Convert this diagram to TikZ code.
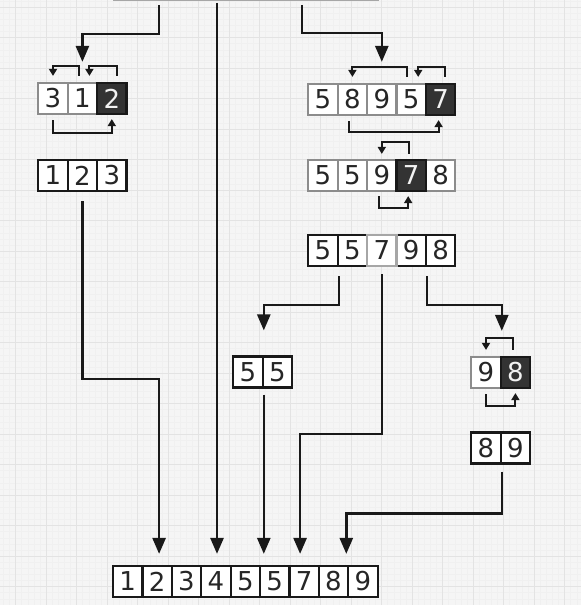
\documentclass[tikz,border=0pt]{standalone}
\usepackage{fontspec}
\usepackage{tikz}
\usetikzlibrary{arrows.meta}
\newfontfamily\digitfont{DejaVu Sans}
\tikzstyle{cell}=[draw=black!90,fill=white,line width=2.2pt,minimum width=29.4pt,minimum height=31pt,inner sep=0pt,text=black!85,font=\digitfont\fontsize{26pt}{30pt}\selectfont]
\tikzstyle{grey}=[cell,draw=black!45]
\tikzstyle{pivot}=[cell,fill=black!80,text=black!5]
\tikzstyle{big}=[line width=2.6pt,draw=black!90,-{Triangle[width=13pt,length=16pt]}]
\tikzstyle{swap}=[line width=2pt,draw=black!90,-{Triangle[width=8pt,length=7pt]}]
\tikzstyle{minor}=[black!6,line width=0.4pt]
\tikzstyle{major}=[black!11,line width=0.8pt]

\begin{document}
\begin{tikzpicture}[x=1pt,y=1pt,node distance=29.4pt]
          \useasboundingbox (0,0) rectangle (581,-605);
          \fill[black!4] (0,0) rectangle (581,-605);
          \foreach \x in {0,...,95} \draw[minor] ({3.3+6.1*\x},0) -- ++(0,-605);
          \foreach \y in {0,...,99} \draw[minor] (0,{-0.9-6.1*\y}) -- ++(581,0);
          \foreach \x in {0,...,18} \draw[major] ({15.5+30.5*\x},0) -- ++(0,-605);
          \foreach \y in {0,...,19} \draw[major] (0,{-7-30.5*\y}) -- ++(581,0);
          % unsorted input, cut off at the top
          \node[draw=black!35,fill=white,line width=1.5pt,minimum width=264pt,minimum height=30pt,anchor=south west] (top) at (113,-1) {};
          \coordinate (t1) at (159,-5);
          \coordinate (t2) at (217,-3);
          \coordinate (t3) at (302,-5);
          % left part
          \node[grey] (a1) at (53,-98.5) {3};
          \node[grey,right of=a1] (a2) {1};
          \node[pivot,right of=a2] (a3) {2};
          \node[cell] (b1) at (53,-175.5) {1};
          \node[cell,right of=b1] (b2) {2};
          \node[cell,right of=b2] (b3) {3};
          % right part
          \node[grey] (c1) at (323,-99.5) {5};
          \node[grey,right of=c1] (c2) {8};
          \node[grey,right of=c2] (c3) {9};
          \node[grey,right of=c3] (c4) {5};
          \node[pivot,right of=c4] (c5) {7};
          \node[grey] (d1) at (323,-175.5) {5};
          \node[grey,right of=d1] (d2) {5};
          \node[grey,right of=d2] (d3) {9};
          \node[grey,right of=d3,node distance=58.8pt] (d5) {8};
          \node[pivot,right of=d3] (d4) {7};
          \node[cell] (e1) at (323,-250.5) {5};
          \node[cell,right of=e1] (e2) {5};
          \node[cell,right of=e2,node distance=58.8pt] (e4) {9};
          \node[cell,right of=e4] (e5) {8};
          \node[grey,draw=black!35,right of=e2] (e3) {7};
          \node[cell] (f1) at (248,-372) {5};
          \node[cell,right of=f1] (f2) {5};
          \node[grey] (g1) at (486,-372.5) {9};
          \node[pivot,right of=g1] (g2) {8};
          \node[cell] (h1) at (486,-448) {8};
          \node[cell,right of=h1] (h2) {9};
          % merged output
          \node[cell] (r1) at (127.7,-581.5) {1};
          \node[cell,right of=r1] (r2) {2};
          \node[cell,right of=r2] (r3) {3};
          \node[cell,right of=r3] (r4) {4};
          \node[cell,right of=r4] (r5) {5};
          \node[cell,right of=r5] (r6) {5};
          \node[cell,right of=r6] (r7) {7};
          \node[cell,right of=r7] (r8) {8};
          \node[cell,right of=r8] (r9) {9};
          % swaps
          \draw[swap] ([xshift=-3pt,yshift=6pt]a2.north) -- ++(0,10) -| ([yshift=6pt]a1.north);
          \draw[swap] ([xshift=5pt,yshift=6pt]a3.north) -- ++(0,10) -| ([xshift=7pt,yshift=6pt]a2.north);
          \draw[swap] ([yshift=-5pt]a1.south) -- ++(0,-13) -| ([yshift=-4pt]a3.south);
          \draw[swap] ([xshift=-4pt,yshift=6pt]c4.north) -- ++(0,10) -| ([yshift=6pt]c2.north);
          \draw[swap] ([xshift=4pt,yshift=6pt]c5.north) -- ++(0,10) -| ([xshift=7pt,yshift=6pt]c4.north);
          \draw[swap] ([xshift=-3pt,yshift=-5pt]c2.south) -- ++(0,-11) -| ([xshift=-2pt,yshift=-4pt]c5.south);
          \draw[swap] ([xshift=-2pt,yshift=5pt]d4.north) -- ++(0,12) -| ([yshift=5pt]d3.north);
          \draw[swap] ([xshift=-3pt,yshift=-4pt]d3.south) -- ++(0,-12) -| ([xshift=-3pt,yshift=-4pt]d4.south);
          \draw[swap] ([xshift=-2pt,yshift=6pt]g2.north) -- ++(0,12) -| ([yshift=6pt]g1.north);
          \draw[swap] ([yshift=-5pt]g1.south) -- ++(0,-12) -| ([yshift=-4pt]g2.south);
          % splits and merges
          \draw[big] (t1) -- ++(0,-29) -| ([yshift=20pt]a2.north);
          \draw[big,shorten >=11pt] (t2) -- (t2 |- r4.north);
          \draw[big] (t3) -- ++(0,-28) -| ([yshift=21pt]c3.north);
          \draw[big] ([yshift=-9pt]b2.south) -- ++(0,-178) -| ([xshift=2pt,yshift=11pt]r2.north);
          \draw[big] ([yshift=-9pt]e1.south east) -- ++(0,-29) -| ([yshift=25pt]f1.north east);
          \draw[big] ([yshift=-7pt]e3.south) -- ++(0,-160) -| ([xshift=-4pt,yshift=11pt]r7.north);
          \draw[big] ([yshift=-9pt]e4.south east) -- ++(0,-29) -| ([yshift=25pt]g1.north east);
          \draw[big,shorten <=6pt,shorten >=11pt] (f1.south east) -- (f1.south east |- r5.north);
          \draw[big] ([yshift=-7pt]h1.south east) -- ++(0,-42) -| ([xshift=-3pt,yshift=11pt]r8.north east);
        \end{tikzpicture}
\end{document}
